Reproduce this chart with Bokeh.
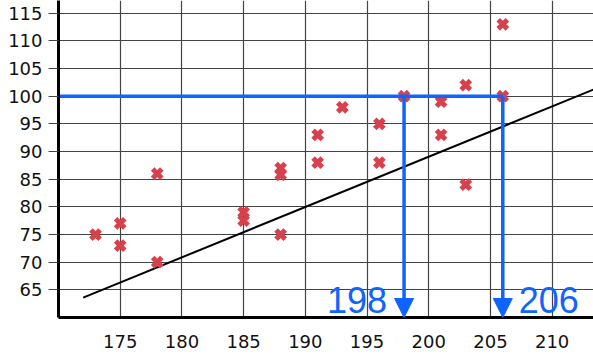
from bokeh.plotting import figure
from bokeh.models import Range1d, Arrow, NormalHead, FixedTicker, ColumnDataSource
from bokeh.core.properties import value
from bokeh.embed import file_html
from bokeh.resources import INLINE

# data
x_vals = [173, 175, 175, 178, 178, 185, 185, 188, 188, 188, 191, 191, 193,
          196, 196, 198, 201, 201, 203, 203, 206, 206]
y_vals = [75, 77, 73, 86, 70, 79, 77.5, 75, 87, 85.8, 93, 88, 98,
          95, 88, 100, 99, 93, 102, 84, 113, 100]
fit_x = [172, 214]
fit_y = [63.6, 101.8]
target_y = 100
predicted_x = [198, 206]
predicted_labels = ["198", "206"]
x_ticks = [175, 180, 185, 190, 195, 200, 205, 210]
y_ticks = [65, 70, 75, 80, 85, 90, 95, 100, 105, 110, 115]
x_start, x_end = 170, 213.35
y_start, y_end = 60, 117.3

BLUE = "#0f64ff"
RED = "#d8414c"
FONT = "Liberation Sans"
TICK_FONT = "DejaVu Sans"

p = figure(width=593, height=360, output_backend="svg", toolbar_location=None,
           x_range=Range1d(x_start, x_end), y_range=Range1d(y_start, y_end),
           min_border_left=58, min_border_right=0, min_border_top=0,
           min_border_bottom=43)
p.outline_line_color = None
p.background_fill_color = "white"
p.border_fill_color = "white"

# axes
for ax in (p.xaxis[0], p.yaxis[0]):
    ax.axis_line_color = "black"
    ax.axis_line_width = 3
    ax.major_label_text_font = TICK_FONT
    ax.major_label_text_font_size = "18px"
    ax.major_label_text_color = "#111111"
    ax.minor_tick_line_color = None
    ax.major_label_text_font_style = "normal"

p.xaxis.ticker = FixedTicker(ticks=x_ticks)
p.yaxis.ticker = FixedTicker(ticks=y_ticks)
p.xaxis.major_tick_line_color = None
p.xaxis.major_tick_out = 0
p.xaxis.major_tick_in = 0
p.xaxis.major_label_standoff = 17
p.yaxis.major_tick_line_color = "#444444"
p.yaxis.major_tick_line_width = 1
p.yaxis.major_tick_out = 10
p.yaxis.major_tick_in = 0
p.yaxis.major_label_standoff = 6

p.xgrid.ticker = FixedTicker(ticks=x_ticks)
p.ygrid.ticker = FixedTicker(ticks=y_ticks)
for g in (p.xgrid[0], p.ygrid[0]):
    g.grid_line_color = "#444444"
    g.grid_line_width = 1.2

# fitted line
p.line(fit_x, fit_y, line_color="black", line_width=2)

# data points
p.scatter(x_vals, y_vals, marker="x", size=13, line_color=RED, line_width=5)

# horizontal guide at the target value
p.line([x_start, max(predicted_x)], [target_y, target_y], line_color=BLUE,
       line_width=3.5)

# arrows down to the x axis
for px in predicted_x:
    p.add_layout(Arrow(x_start=px, y_start=target_y, x_end=px, y_end=y_start,
                       line_color=BLUE, line_width=3.5,
                       end=NormalHead(size=19, fill_color=BLUE, line_color=BLUE,
                                      line_width=1)))

src = ColumnDataSource(dict(x=predicted_x, y=[y_start, y_start],
                            t=predicted_labels,
                            xo=[-17, 16], al=["right", "left"]))
p.text(x="x", y="y", text="t", source=src, x_offset="xo", y_offset=-18,
       text_align="al", text_baseline="middle", text_color=BLUE,
       text_font=value(FONT), text_font_size="36px")

open("out.html", "w").write(file_html(p, INLINE))
